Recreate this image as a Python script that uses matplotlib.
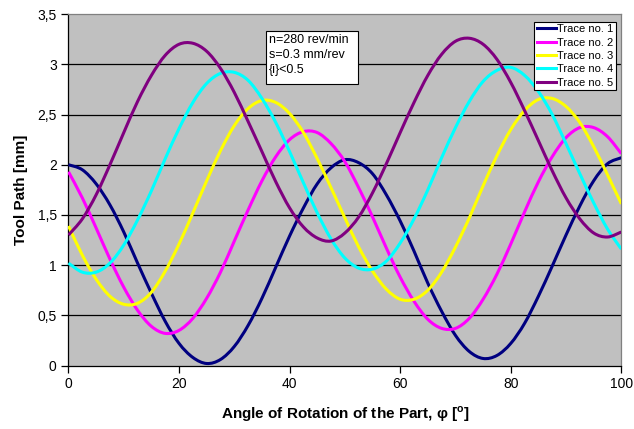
import matplotlib
matplotlib.use("Agg")
import numpy as np
import matplotlib.pyplot as plt
from matplotlib.patches import Rectangle, PathPatch
from matplotlib.path import Path
from matplotlib.lines import Line2D
from matplotlib.ticker import FuncFormatter

plt.rcParams['font.family'] = ['Liberation Sans', 'DejaVu Sans']
plt.rcParams['mathtext.fontset'] = 'custom'
plt.rcParams['mathtext.rm'] = 'Liberation Sans'
plt.rcParams['mathtext.bf'] = 'Liberation Sans:bold'

# angle of rotation of the part (deg)
angle = [0, 2.5, 5, 7.5, 10, 12.5, 15, 17.5, 20, 22.5, 25,
         27.5, 30, 32.5, 35, 37.5, 40, 42.5, 45, 47.5, 50,
         52.5, 55, 57.5, 60, 62.5, 65, 67.5, 70, 72.5, 75,
         77.5, 80, 82.5, 85, 87.5, 90, 92.5, 95, 97.5, 100]

# tool path (mm) for each trace
trace1 = [2.00, 1.95, 1.81, 1.60, 1.33, 1.02, 0.72, 0.44, 0.22, 0.08, 0.02,
          0.06, 0.19, 0.40, 0.67, 0.98, 1.29, 1.57, 1.81, 1.97, 2.05,
          2.02, 1.91, 1.70, 1.44, 1.14, 0.82, 0.54, 0.30, 0.14, 0.07,
          0.10, 0.22, 0.42, 0.69, 0.99, 1.30, 1.59, 1.84, 2.01, 2.07]
trace2 = [1.93, 1.67, 1.37, 1.06, 0.78, 0.55, 0.39, 0.32, 0.35, 0.47, 0.67,
          0.93, 1.24, 1.55, 1.84, 2.08, 2.25, 2.33, 2.32, 2.21, 2.03,
          1.77, 1.48, 1.17, 0.88, 0.64, 0.46, 0.37, 0.37, 0.47, 0.66,
          0.91, 1.21, 1.53, 1.83, 2.08, 2.27, 2.37, 2.37, 2.28, 2.11]
trace3 = [1.39, 1.10, 0.86, 0.69, 0.61, 0.62, 0.73, 0.94, 1.21, 1.52, 1.84,
          2.14, 2.39, 2.56, 2.64, 2.62, 2.51, 2.32, 2.06, 1.77, 1.47,
          1.18, 0.94, 0.76, 0.66, 0.66, 0.75, 0.93, 1.18, 1.47, 1.79,
          2.09, 2.35, 2.54, 2.65, 2.66, 2.58, 2.42, 2.18, 1.90, 1.61]
trace4 = [1.02, 0.93, 0.93, 1.02, 1.20, 1.45, 1.74, 2.06, 2.36, 2.62, 2.81,
          2.91, 2.92, 2.84, 2.66, 2.42, 2.13, 1.82, 1.52, 1.26, 1.07,
          0.97, 0.96, 1.04, 1.22, 1.46, 1.75, 2.07, 2.37, 2.63, 2.83,
          2.94, 2.97, 2.89, 2.73, 2.50, 2.21, 1.91, 1.62, 1.36, 1.16]
trace5 = [1.30, 1.46, 1.70, 2.00, 2.32, 2.63, 2.89, 3.09, 3.20, 3.21, 3.13,
          2.96, 2.72, 2.43, 2.13, 1.83, 1.57, 1.38, 1.27, 1.24, 1.32,
          1.48, 1.72, 2.01, 2.32, 2.62, 2.89, 3.10, 3.23, 3.26, 3.20,
          3.05, 2.82, 2.54, 2.24, 1.94, 1.67, 1.46, 1.32, 1.28, 1.33]

traces = [trace1, trace2, trace3, trace4, trace5]
labels = ["Trace no. 1", "Trace no. 2", "Trace no. 3", "Trace no. 4", "Trace no. 5"]
colors = ["#000080", "#FF00FF", "#FFFF00", "#00FFFF", "#800080"]

x_ticks = [0, 20, 40, 60, 80, 100]
y_ticks = [0, 0.5, 1, 1.5, 2, 2.5, 3, 3.5]

cutting_info = "n=280 rev/min\ns=0.3 mm/rev\n{i}<0.5"


def comma_fmt(v, pos):
    # decimal comma, no trailing zeros
    return f"{v:g}".replace(".", ",")


def smooth_path(xs, ys):
    # smoothed line through the points (Catmull-Rom as cubic Bezier segments)
    pts = np.column_stack([xs, ys]).astype(float)
    n = len(pts)
    verts = [pts[0]]
    codes = [Path.MOVETO]
    for i in range(n - 1):
        p0 = pts[max(i - 1, 0)]
        p1 = pts[i]
        p2 = pts[i + 1]
        p3 = pts[min(i + 2, n - 1)]
        verts += [p1 + (p2 - p0) / 6, p2 - (p3 - p1) / 6, p2]
        codes += [Path.CURVE4] * 3
    return Path(verts, codes)


def draw():
    fig = plt.figure(figsize=(6.34, 4.29), dpi=100)
    ax = fig.add_axes([0.108, 0.148, 0.872, 0.819])
    ax.set_facecolor("#C0C0C0")

    for y in y_ticks[1:-1]:
        ax.axhline(y, color="black", linewidth=0.9, zorder=1)

    handles = []
    for vals, lab, col in zip(traces, labels, colors):
        patch = PathPatch(smooth_path(angle, vals), facecolor="none",
                          edgecolor=col, linewidth=2.2, zorder=3,
                          joinstyle="round", capstyle="butt")
        ax.add_patch(patch)
        handles.append(Line2D([], [], color=col, linewidth=2.2, label=lab))

    ax.set_xlim(0, 100)
    ax.set_ylim(0, 3.5)
    ax.set_xticks(x_ticks)
    ax.set_yticks(y_ticks)
    ax.yaxis.set_major_formatter(FuncFormatter(comma_fmt))
    ax.tick_params(labelsize=10, length=5, width=0.9, color="black")

    for side in ["left", "bottom"]:
        ax.spines[side].set_color("black")
        ax.spines[side].set_linewidth(0.9)
    for side in ["top", "right"]:
        ax.spines[side].set_color("#808080")
        ax.spines[side].set_linewidth(0.9)

    ax.set_xlabel(r"Angle of Rotation of the Part, φ [$^{\mathbf{o}}$]",
                  fontsize=11, fontweight="bold", labelpad=9)
    ax.set_ylabel("Tool Path [mm]", fontsize=11, fontweight="bold", labelpad=7)

    # cutting conditions box
    ax.add_patch(Rectangle((0.357, 0.801), 0.166, 0.152, transform=ax.transAxes,
                           facecolor="white", edgecolor="black", linewidth=0.8,
                           zorder=4))
    ax.text(0.363, 0.944, cutting_info, transform=ax.transAxes, fontsize=9,
            va="top", ha="left", linespacing=1.35, zorder=5)

    leg = ax.legend(handles=handles, loc="upper right",
                    bbox_to_anchor=(0.991, 0.979),
                    borderaxespad=0, fontsize=8, frameon=True, fancybox=False,
                    edgecolor="black", framealpha=1, handlelength=1.7,
                    handletextpad=0.15, borderpad=0.25, labelspacing=0.3)
    leg.get_frame().set_linewidth(0.8)
    leg.set_zorder(6)

    fig.savefig("out.png", dpi=100, facecolor="white")


if __name__ == "__main__":
    draw()
